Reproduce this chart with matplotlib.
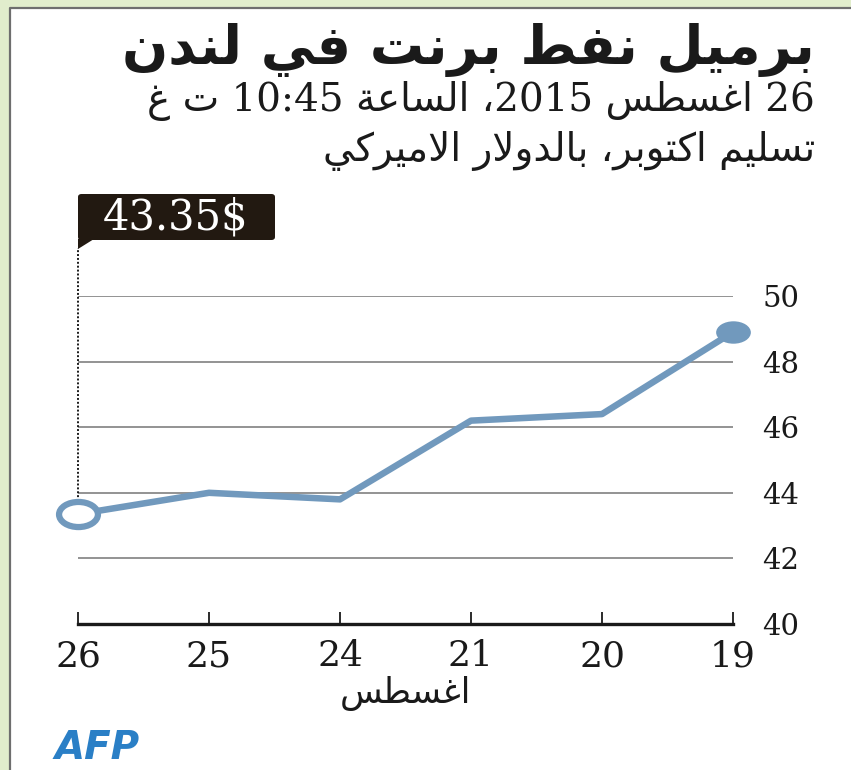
import re
import matplotlib
matplotlib.use('Agg')
import matplotlib.pyplot as plt
from matplotlib.patches import Rectangle, Polygon, FancyBboxPatch
from matplotlib.lines import Line2D
from matplotlib.path import Path
from matplotlib.transforms import Affine2D

# data (chart reads right to left: 19 .. 26 August)
days = ['26', '25', '24', '21', '20', '19']
price = [43.35, 44.0, 43.8, 46.2, 46.4, 48.9]
yticks = [40, 42, 44, 46, 48, 50]
last_label = '43.35$'

title = 'برميل نفط برنت في لندن'
sub1 = '26 اغسطس 2015، الساعة 10:45 ت غ'
sub2 = 'تسليم اكتوبر، بالدولار الاميركي'
xlab = 'اغسطس'

# matplotlib has no arabic shaping / bidi, so do a small version by hand
# forms: (isolated, final, initial, medial)
FORMS = {
    'ا': ('\uFE8D', '\uFE8E', None, None),
    'ب': ('\uFE8F', '\uFE90', '\uFE91', '\uFE92'),
    'ة': ('\uFE93', '\uFE94', None, None),
    'ت': ('\uFE95', '\uFE96', '\uFE97', '\uFE98'),
    'د': ('\uFEA9', '\uFEAA', None, None),
    'ر': ('\uFEAD', '\uFEAE', None, None),
    'س': ('\uFEB1', '\uFEB2', '\uFEB3', '\uFEB4'),
    'ط': ('\uFEC1', '\uFEC2', '\uFEC3', '\uFEC4'),
    'ع': ('\uFEC9', '\uFECA', '\uFECB', '\uFECC'),
    'غ': ('\uFECD', '\uFECE', '\uFECF', '\uFED0'),
    'ف': ('\uFED1', '\uFED2', '\uFED3', '\uFED4'),
    'ك': ('\uFED9', '\uFEDA', '\uFEDB', '\uFEDC'),
    'ل': ('\uFEDD', '\uFEDE', '\uFEDF', '\uFEE0'),
    'م': ('\uFEE1', '\uFEE2', '\uFEE3', '\uFEE4'),
    'ن': ('\uFEE5', '\uFEE6', '\uFEE7', '\uFEE8'),
    'و': ('\uFEED', '\uFEEE', None, None),
    'ي': ('\uFEF1', '\uFEF2', '\uFEF3', '\uFEF4'),
}


def joins_next(c):
    return c in FORMS and FORMS[c][2] is not None


def shape(s):
    out = ''
    i = 0
    while i < len(s):
        c = s[i]
        if c not in FORMS:
            out += c
            i += 1
            continue
        jp = i > 0 and joins_next(s[i - 1])
        if c == 'ل' and i + 1 < len(s) and s[i + 1] == 'ا':
            out += '\uFEFC' if jp else '\uFEFB'
            i += 2
            continue
        jn = joins_next(c) and i + 1 < len(s) and s[i + 1] in FORMS
        iso, fin, ini, med = FORMS[c]
        out += med if (jp and jn) else fin if jp else ini if jn else iso
        i += 1
    return out


def visual(s):
    # rtl line: reverse everything, then put number runs back in order
    r = shape(s)[::-1]
    return re.sub(r'[0-9][0-9:.]*[0-9]|[0-9]', lambda m: m.group(0)[::-1], r)


W, H = 851, 770
fig = plt.figure(figsize=(W / 100, H / 100), dpi=100)
fig.patch.set_facecolor('#e1edcc')


def fx(px):
    return px / W


def fy(py):
    return 1 - py / H


fig.add_artist(Rectangle((fx(10), 0), 1 - fx(10), fy(8), transform=fig.transFigure,
                         facecolor='white', edgecolor='none', zorder=0))
fig.add_artist(Line2D([fx(10), fx(10), 1], [0, fy(8), fy(8)], transform=fig.transFigure,
                      color='#6e6e6e', lw=1.6, zorder=1))

serif = ['DejaVu Serif', 'DejaVu Sans']
line_col = '#7199bd'
ink = '#1a1a1a'

fig.text(fx(815), fy(50), visual(title), ha='right', va='center', fontsize=39,
         fontweight='bold', family='DejaVu Sans', color=ink)
fig.text(fx(815), fy(101), visual(sub1), ha='right', va='center', fontsize=28,
         family=serif, color=ink)
fig.text(fx(815), fy(151), visual(sub2), ha='right', va='center', fontsize=28,
         family=serif, color=ink)

ax = fig.add_axes([fx(78), 1 - 624 / H, (733 - 78) / W, (624 - 296) / H])
ax.set_facecolor('none')
x = list(range(len(days)))
ax.set_xlim(0, len(days) - 1)
ax.set_ylim(40, 50)

for v in yticks[1:]:
    ax.axhline(v, color='#8a8a8a', lw=1.3, zorder=1)

ax.plot(x, price, color=line_col, lw=4.7, solid_capstyle='round', zorder=3)

ell = Path.unit_circle().transformed(Affine2D().scale(1.55, 1.0))
ax.plot([x[-1]], [price[-1]], marker=ell, ms=25, color=line_col, mew=0, zorder=4,
        clip_on=False)
ax.plot([x[0]], [price[0]], marker=ell, ms=28, mfc='white', mec=line_col, mew=4.5,
        zorder=4, clip_on=False)

# dotted pointer up to the label box
ax.plot([x[0], x[0]], [price[0] + 0.4, 40 + (624 - 248) / 32.8], color=ink,
        ls=(0, (1, 1)), lw=1.4, clip_on=False, zorder=2)

for s in ['top', 'left', 'right']:
    ax.spines[s].set_visible(False)
ax.spines['bottom'].set_color(ink)
ax.spines['bottom'].set_linewidth(2.4)

ax.set_xticks(x)
ax.set_xticklabels(days, family='DejaVu Serif', fontsize=26, color=ink)
ax.tick_params(axis='x', direction='in', length=9, width=1.3, color=ink, pad=11)
ax.yaxis.tick_right()
ax.set_yticks(yticks)
ax.set_yticklabels([str(v) for v in yticks], family='DejaVu Serif', fontsize=21,
                   color=ink)
ax.tick_params(axis='y', length=0, pad=21)

ax.set_xlabel(visual(xlab), family='DejaVu Sans', fontsize=25, color=ink,
              labelpad=2)

# label box with little tail
box_col = '#221911'
fig.add_artist(FancyBboxPatch((fx(78), fy(240)), fx(275) - fx(78), fy(194) - fy(240),
                              boxstyle='round,pad=0,rounding_size=0.004',
                              transform=fig.transFigure, facecolor=box_col,
                              edgecolor='none', zorder=5))
fig.add_artist(Polygon([(fx(78), fy(239)), (fx(94), fy(239)), (fx(78), fy(249))],
                       closed=True, transform=fig.transFigure, facecolor=box_col,
                       edgecolor='none', zorder=5))
fig.text(fx(176), fy(217), last_label, ha='center', va='center', fontsize=30,
         family='DejaVu Serif', color='white', zorder=6)

fig.text(fx(55), fy(748), 'AFP', ha='left', va='center', fontsize=28,
         fontweight='bold', style='italic', family='DejaVu Sans', color='#2a7fc6')

fig.savefig('out.png', dpi=100, facecolor=fig.get_facecolor())
